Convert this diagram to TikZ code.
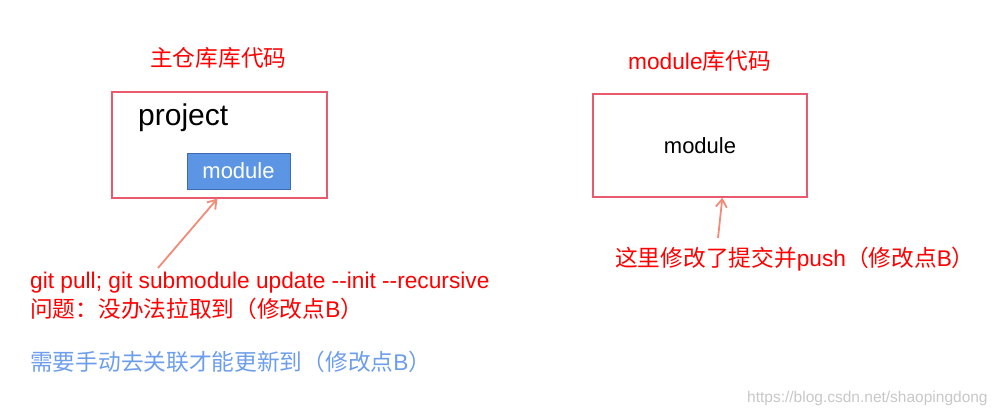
\documentclass[tikz,border=0pt]{standalone}
\usepackage{fontspec}
\setmainfont{Liberation Sans}
\newfontfamily\cjk{Noto Sans CJK SC}
\usetikzlibrary{calc,arrows.meta}
\definecolor{tred}{HTML}{FF0000}
\definecolor{boxline}{HTML}{EA5A6E}
\definecolor{arrowc}{HTML}{F28B78}
\definecolor{modfill}{HTML}{5B95E3}
\definecolor{modline}{HTML}{3D6CB5}
\definecolor{bluetext}{HTML}{6D9EEB}
\definecolor{wmark}{HTML}{C8C8C8}
\tikzset{
  repobox/.style={draw=boxline,line width=1.3pt,inner sep=0pt,fill=white},
  modbox/.style={draw=modline,fill=modfill,line width=1pt,inner sep=0pt,text=white,font=\fontsize{22}{26}\selectfont},
  lbl/.style={anchor=base west,inner sep=0pt,font=\fontsize{22.7}{26}\selectfont},
  conn/.style={draw=arrowc,line width=1.8pt,-{Straight Barb[length=8pt,width=11pt,line width=1.8pt]}},
}
\begin{document}
\begin{tikzpicture}[x=1pt,y=-1pt]
\useasboundingbox[fill=white] (0,0) rectangle (1001,415);
% left repo
\node[lbl,text=tred] (ltitle) at (150,66) {\cjk 主仓库库代码};
\node[repobox,minimum width=215pt,minimum height=106pt] (lbox) at (219.5,145) {};
\node[lbl,font=\fontsize{30}{34}\selectfont] (proj) at (138,125) {project};
\node[modbox,minimum width=103pt,minimum height=36pt] (mod) at (238.5,171) {module};
% right repo
\node[lbl,text=tred] (rtitle) at (628,69) {module{\cjk 库代码}};
\node[repobox,minimum width=214pt,minimum height=103pt] (rbox) at (700,145.5) {};
\node[inner sep=0pt,font=\fontsize{22}{26}\selectfont] (rmod) at (700,146) {module};
% texts
\node[lbl,text=tred] (cmd) at (30,288) {git pull; git submodule update {-}{-}init {-}{-}recursive};
\node[lbl,text=tred] (prob) at (30,317) {{\cjk 问题：没办法拉取到（修改点}B{\cjk ）}};
\node[lbl,text=bluetext] (need) at (30,370) {{\cjk 需要手动去关联才能更新到（修改点}B{\cjk ）}};
\node[lbl,text=tred] (rtext) at (615,266) {{\cjk 这里修改了提交并}push{\cjk （修改点}B{\cjk ）}};
\node[anchor=base west,inner sep=0pt,text=wmark,font=\fontsize{15.5}{18}\selectfont] (wm) at (747,402) {https://blog.csdn.net/shaopingdong};
% connectors
\coordinate (la) at (158,268);
\coordinate (ra) at (718,238);
\draw[conn] (la) -- ($(lbox.south west)+(106,0)$);
\draw[conn] (ra) -- ($(rbox.south west)+(130,0)$);
\end{tikzpicture}
\end{document}
